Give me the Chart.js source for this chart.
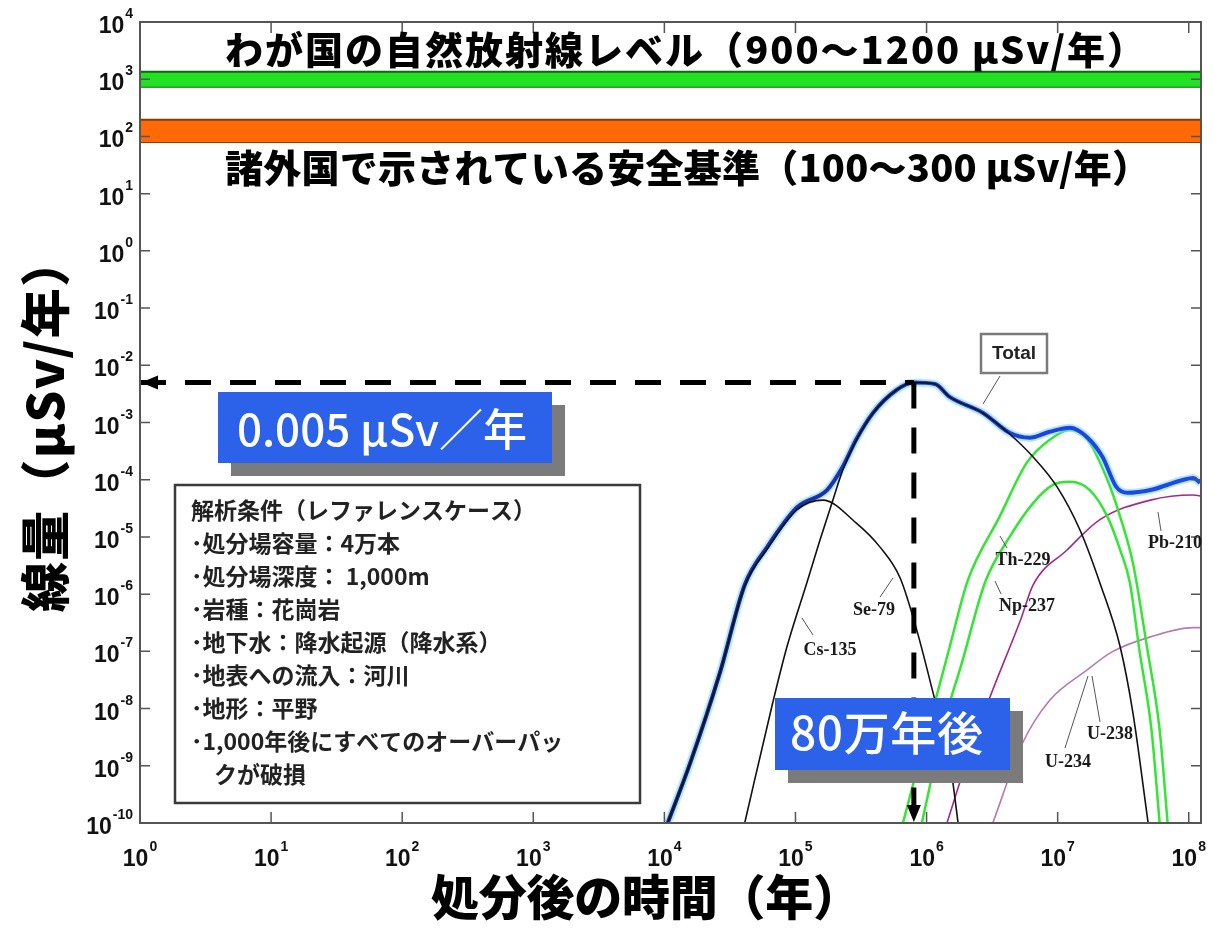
<!DOCTYPE html>
<html lang="ja">
<head>
<meta charset="utf-8">
<title>処分後の時間と線量</title>
<script src="https://cdn.jsdelivr.net/npm/chart.js@4.4.1/dist/chart.umd.min.js"></script>
<style>
  html, body { margin: 0; padding: 0; background: #fff; }
  #wrap { width: 1215px; height: 936px; position: relative; }
</style>
</head>
<body>
<div id="wrap"><canvas id="doseChart"></canvas></div>
<script>
// values: years after disposal / dose in μSv per year
const totalYears = [1.06e4, 1.57e4, 2.65e4, 4.1e4, 6.1e4, 1.03e5, 1.74e5, 2.3e5, 2.9e5, 3.9e5, 5.9e5, 8.0e5, 1.16e6, 1.5e6, 2.7e6, 4.3e6, 6.1e6, 8.7e6, 1.24e7, 1.67e7, 2.2e7, 2.8e7, 3.4e7, 5.1e7, 9.0e7, 1.08e8, 1.22e8];
const totalDose  = [1e-10, 1.1e-9, 4.2e-8, 1.45e-6, 6.7e-6, 3.3e-5, 6.6e-5, 1.7e-4, 5.0e-4, 1.47e-3, 3.7e-3, 5.0e-3, 4.7e-3, 2.8e-3, 1.47e-3, 6.6e-4, 5.4e-4, 6.9e-4, 8.1e-4, 5.6e-4, 2.5e-4, 7.5e-5, 5.9e-5, 6.6e-5, 9.9e-5, 1.07e-4, 8.8e-5];

const se79Years = [1.06e4, 1.57e4, 2.65e4, 4.1e4, 6.1e4, 1.03e5, 1.62e5, 2.9e5, 4.4e5, 6.3e5, 8.4e5, 1.12e6, 1.5e6, 1.74e6];
const se79Dose  = [1e-10, 1.1e-9, 4.2e-8, 1.4e-6, 6.2e-6, 3.0e-5, 4.4e-5, 1.76e-5, 6.7e-6, 1.9e-6, 2.4e-7, 1.9e-8, 1.26e-9, 1e-10];

const cs135Years = [4.1e4, 6.7e4, 8.6e4, 1.22e5, 1.54e5, 1.93e5, 2.3e5, 2.9e5, 3.9e5, 5.9e5, 8.0e5, 1.16e6, 1.5e6, 2.7e6, 4.3e6, 6.5e6, 9.9e6, 1.48e7, 2.1e7, 3.0e7, 3.75e7, 4.9e7];
const cs135Dose  = [1e-10, 1.25e-8, 1.19e-7, 1.57e-6, 8.9e-6, 4.4e-5, 1.5e-4, 4.8e-4, 1.45e-3, 3.7e-3, 5.0e-3, 4.7e-3, 2.8e-3, 1.45e-3, 6.3e-4, 2.5e-4, 7.5e-5, 1.32e-5, 1.57e-6, 1.19e-7, 8.4e-9, 1e-10];

const th229Years = [6.6e5, 1.5e6, 2.07e6, 3.6e6, 5.8e6, 8.7e6, 1.24e7, 1.67e7, 2.4e7, 3.0e7, 3.75e7, 4.8e7, 6.0e7, 6.9e7];
const th229Dose  = [1e-10, 1.19e-7, 1.77e-6, 2.24e-5, 1.97e-4, 5.0e-4, 7.4e-4, 5.2e-4, 9.9e-5, 2.24e-5, 3.5e-6, 1.19e-7, 4.2e-9, 1e-10];

const np237Years = [9.2e5, 1.38e6, 1.86e6, 2.8e6, 4.3e6, 6.5e6, 9.2e6, 1.24e7, 1.76e7, 2.4e7, 3.0e7, 3.56e7, 4.2e7, 5.2e7, 6.0e7];
const np237Dose  = [1e-10, 6.3e-9, 6.3e-8, 1.63e-6, 1.0e-5, 3.9e-5, 8.1e-5, 9.2e-5, 6.6e-5, 2.24e-5, 5.9e-6, 1.57e-6, 1.06e-7, 4.2e-9, 1e-10];

const pb210Years = [1.43e6, 2.0e6, 3.05e6, 5.2e6, 6.5e6, 1.18e7, 2.1e7, 5.1e7, 1.08e8, 1.22e8];
const pb210Dose  = [1e-10, 1.1e-9, 1.6e-8, 3.5e-7, 1.45e-6, 5.9e-6, 2.0e-5, 4.4e-5, 5.4e-5, 5.2e-5];

const uraniumYears = [3.2e6, 5.4e6, 8.7e6, 1.67e7, 2.6e7, 5.1e7, 1.08e8, 1.22e8];
const uraniumDose  = [1e-10, 2.5e-9, 1.4e-8, 4.7e-8, 9.8e-8, 1.79e-7, 2.6e-7, 2.6e-7];

// reference bands (as drawn) and the peak marker
const bandYears   = [1, 1.24e8];
const naturalBand = [740, 1350];
const safetyBand  = [80, 195];
const peakYears   = [1, 8e5];
const peakDose    = [0.005, 0.005];
const dropYears   = [8e5, 8e5];
const dropDose    = [0.005, 1e-10];

// axis ticks
const xTickExp = [0, 1, 2, 3, 4, 5, 6, 7, 8];
const yTickExp = [-10, -9, -8, -7, -6, -5, -4, -3, -2, -1, 0, 1, 2, 3, 4];

const conditionLines = [
  '解析条件（レファレンスケース）',
  '･処分場容量：4万本',
  '･処分場深度： 1,000m',
  '･岩種：花崗岩',
  '･地下水：降水起源（降水系）',
  '･地表への流入：河川',
  '･地形：平野',
  '･1,000年後にすべてのオーバーパッ',
  '　クが破損'
];

const JP = '"Noto Sans CJK JP", "Noto Sans", sans-serif';
const SANS = '"Liberation Sans", Arial, sans-serif';
const SERIF = '"Liberation Serif", "Times New Roman", serif';

function pts(xs, ys) { return xs.map((v, i) => ({ x: v, y: ys[i] })); }

function curve(label, xs, ys, color, width, order, extra) {
  return Object.assign({
    label: label, data: pts(xs, ys), borderColor: color, borderWidth: width,
    pointRadius: 0, fill: false, cubicInterpolationMode: 'monotone', order: order
  }, extra || {});
}

function totalColor(c) {
  const a = c.chart.chartArea;
  if (!a) return '#1a35c0';
  const g = c.chart.ctx.createLinearGradient(a.left, 0, a.right, 0);
  g.addColorStop(0, '#16206a');
  g.addColorStop(0.55, '#1a2a8c');
  g.addColorStop(0.78, '#1e3fd2');
  g.addColorStop(1, '#1f4be8');
  return g;
}

function fitText(ctx, text, left, midY, width, font, color) {
  ctx.save();
  ctx.font = font;
  ctx.letterSpacing = '0px';
  const natural = ctx.measureText(text).width;
  const n = Array.from(text).length;
  if (n > 1) ctx.letterSpacing = ((width - natural) / (n - 1)).toFixed(2) + 'px';
  ctx.fillStyle = color || '#000';
  ctx.textAlign = 'left';
  ctx.textBaseline = 'middle';
  ctx.fillText(text, left, midY);
  ctx.letterSpacing = '0px';
  ctx.restore();
}

function powLabel(ctx, exp, x, baseY, align) {
  const baseFont = 'bold 23px ' + SANS, supFont = 'bold 14px ' + SANS;
  ctx.font = baseFont;
  const wb = ctx.measureText('10').width;
  ctx.font = supFont;
  const ws = ctx.measureText(String(exp)).width;
  const total = wb + ws + 1;
  const left = align === 'right' ? x - total : x - total / 2;
  ctx.fillStyle = '#111';
  ctx.textAlign = 'left';
  ctx.textBaseline = 'alphabetic';
  ctx.font = baseFont;
  ctx.fillText('10', left, baseY);
  ctx.font = supFont;
  ctx.fillText(String(exp), left + wb + 1, baseY - 15);
}

const decor = {
  id: 'decor',
  beforeDraw(chart) {
    const ctx = chart.ctx;
    ctx.save();
    ctx.fillStyle = '#fff';
    ctx.fillRect(0, 0, chart.width, chart.height);
    ctx.restore();
  },
  afterDatasetsDraw(chart) {
    const { ctx, chartArea: a, scales: { x, y } } = chart;
    // map a position measured on the reference plot box into the live chart area
    const rx = px => a.left + (px - 140) * (a.right - a.left) / 1061;
    const ry = py => a.top + (py - 22) * (a.bottom - a.top) / 801;
    ctx.save();

    // arrow heads of the peak marker
    ctx.fillStyle = '#000';
    const hy = y.getPixelForValue(peakDose[0]);
    ctx.beginPath();
    ctx.moveTo(a.left + 1, hy); ctx.lineTo(a.left + 18, hy - 7); ctx.lineTo(a.left + 18, hy + 7);
    ctx.closePath(); ctx.fill();
    const vx = x.getPixelForValue(dropYears[0]);
    ctx.beginPath();
    ctx.moveTo(vx, a.bottom - 1); ctx.lineTo(vx - 7, a.bottom - 18); ctx.lineTo(vx + 7, a.bottom - 18);
    ctx.closePath(); ctx.fill();

    // frame with inward ticks
    ctx.strokeStyle = '#555';
    ctx.lineWidth = 2;
    ctx.strokeRect(a.left, a.top, a.right - a.left, a.bottom - a.top);
    ctx.lineWidth = 1.5;
    x.ticks.forEach(t => {
      const px = x.getPixelForValue(t.value);
      if (px < a.left - 1 || px > a.right + 1) return;
      const len = t.major ? 11 : 6;
      ctx.beginPath();
      ctx.moveTo(px, a.bottom); ctx.lineTo(px, a.bottom - len);
      ctx.moveTo(px, a.top); ctx.lineTo(px, a.top + len);
      ctx.stroke();
    });
    y.ticks.forEach(t => {
      const py = y.getPixelForValue(t.value);
      ctx.beginPath();
      ctx.moveTo(a.left, py); ctx.lineTo(a.left + 10, py);
      ctx.moveTo(a.right, py); ctx.lineTo(a.right - 10, py);
      ctx.stroke();
    });

    // tick labels
    xTickExp.forEach(e => powLabel(ctx, e, x.getPixelForValue(Math.pow(10, e)), a.bottom + 43, 'center'));
    yTickExp.forEach(e => powLabel(ctx, e, a.left - 7, y.getPixelForValue(Math.pow(10, e)) + 11, 'right'));

    // band captions
    fitText(ctx, 'わが国の自然放射線レベル（900～1200 μSv/年）', rx(225), ry(50), 920, '900 38px ' + JP);
    fitText(ctx, '諸外国で示されている安全基準（100～300 μSv/年）', rx(225), ry(168), 925, '900 38px ' + JP);

    // nuclide labels and leaders
    ctx.strokeStyle = '#555';
    ctx.lineWidth = 1;
    const leaders = [
      [880, 597, 893, 578], [813, 635, 802, 618], [1007, 548, 1000, 536], [1001, 594, 995, 581],
      [1161, 531, 1158, 512], [1100, 722, 1092, 676], [1065, 748, 1088, 676], [1000, 376, 983, 404]
    ];
    leaders.forEach(l => {
      ctx.beginPath(); ctx.moveTo(rx(l[0]), ry(l[1])); ctx.lineTo(rx(l[2]), ry(l[3])); ctx.stroke();
    });
    const tags = [
      ['Se-79', 874, 610], ['Cs-135', 830, 650], ['Th-229', 1023, 560], ['Np-237', 1027, 606],
      ['Pb-210', 1175, 543], ['U-238', 1110, 734], ['U-234', 1068, 762]
    ];
    ctx.fillStyle = '#1a1a1a';
    ctx.font = 'bold 18px ' + SERIF;
    ctx.textAlign = 'center';
    ctx.textBaseline = 'middle';
    tags.forEach(t => ctx.fillText(t[0], rx(t[1]), ry(t[2])));

    // "Total" tag
    ctx.fillStyle = '#fff';
    ctx.fillRect(rx(981), ry(334), 66, 39);
    ctx.strokeStyle = '#7a7a7a';
    ctx.lineWidth = 2.5;
    ctx.strokeRect(rx(981), ry(334), 66, 39);
    ctx.fillStyle = '#222';
    ctx.font = 'bold 19px ' + SANS;
    ctx.fillText('Total', rx(1014), ry(354));

    // analysis conditions box
    ctx.fillStyle = '#fff';
    ctx.fillRect(rx(175), ry(485), 465, 318);
    ctx.strokeStyle = '#3a3a3a';
    ctx.lineWidth = 2.5;
    ctx.strokeRect(rx(175), ry(485), 465, 318);
    ctx.fillStyle = '#222';
    ctx.font = 'bold 23px ' + JP;
    ctx.textAlign = 'left';
    conditionLines.forEach((s, i) => ctx.fillText(s, rx(191), ry(510 + 33 * i)));

    // blue callouts with drop shadow
    const callout = (x0, y0, x1, y1, text, tx, ty, tw, size) => {
      ctx.fillStyle = '#7b7b7b';
      ctx.fillRect(rx(x0) + 13, ry(y0) + 13, x1 - x0, y1 - y0);
      ctx.fillStyle = '#2c62ea';
      ctx.fillRect(rx(x0), ry(y0), x1 - x0, y1 - y0);
      fitText(ctx, text, rx(tx), ry(ty), tw, '500 ' + size + 'px ' + JP, '#fff');
    };
    callout(218, 392, 552, 463, '0.005 μSv／年', 237, 429, 290, 44);
    callout(775, 698, 1010, 770, '80万年後', 790, 733, 193, 46);

    // axis titles
    fitText(ctx, '処分後の時間（年）', 431, 897, 430, '900 48px ' + JP);
    ctx.translate(45, 425);
    ctx.rotate(-Math.PI / 2);
    fitText(ctx, '線量（μSv/年）', -187, 0, 375, '900 50px ' + JP);
    ctx.restore();
  }
};

const xTickValues = [];
xTickExp.forEach(e => {
  for (let m = 1; m <= 9; m++) {
    if (e === 8 && m > 1) break;
    xTickValues.push({ value: m * Math.pow(10, e), major: m === 1 });
  }
});

new Chart(document.getElementById('doseChart'), {
  type: 'line',
  data: {
    datasets: [
      curve('natural-top', bandYears, [naturalBand[1], naturalBand[1]], '#0b6a0b', 2, 30, { fill: '+1', backgroundColor: '#22e022', cubicInterpolationMode: 'default' }),
      curve('natural-bottom', bandYears, [naturalBand[0], naturalBand[0]], '#0b6a0b', 2, 30, { cubicInterpolationMode: 'default' }),
      curve('safety-top', bandYears, [safetyBand[1], safetyBand[1]], '#8a3c06', 2, 30, { fill: '+1', backgroundColor: '#ff6a06', cubicInterpolationMode: 'default' }),
      curve('safety-bottom', bandYears, [safetyBand[0], safetyBand[0]], '#8a3c06', 2, 30, { cubicInterpolationMode: 'default' }),
      curve('U-238 / U-234', uraniumYears, uraniumDose, '#b57ab6', 1.6, 9),
      curve('Pb-210', pb210Years, pb210Dose, '#a3288a', 1.6, 9),
      curve('Np-237', np237Years, np237Dose, '#33e633', 2.5, 8),
      curve('Th-229', th229Years, th229Dose, '#33e633', 2.5, 8),
      curve('Total halo', totalYears, totalDose, 'rgba(120,215,255,0.55)', 8, 7),
      curve('Total', totalYears, totalDose, totalColor, 4, 6),
      curve('Se-79', se79Years, se79Dose, '#111', 1.6, 5),
      curve('Cs-135', cs135Years, cs135Dose, '#111', 1.6, 5),
      curve('peak', peakYears, peakDose, '#000', 5, 1, { borderDash: [26, 19], cubicInterpolationMode: 'default' }),
      curve('peak-drop', dropYears, dropDose, '#000', 5, 1, { borderDash: [26, 19], cubicInterpolationMode: 'default' })
    ]
  },
  options: {
    responsive: true,
    maintainAspectRatio: false,
    devicePixelRatio: 1,
    animation: false,
    layout: { padding: { left: 140, top: 22, right: 14, bottom: 113 } },
    plugins: { legend: { display: false }, tooltip: { enabled: false } },
    scales: {
      x: {
        type: 'logarithmic', min: 1, max: 1.24e8, display: false,
        afterBuildTicks: s => { s.ticks = xTickValues.map(t => ({ value: t.value, major: t.major })); }
      },
      y: {
        type: 'logarithmic', min: 1e-10, max: 1e4, display: false,
        afterBuildTicks: s => { s.ticks = yTickExp.map(e => ({ value: Math.pow(10, e), major: true })); }
      }
    }
  },
  plugins: [decor]
});
</script>
</body>
</html>
